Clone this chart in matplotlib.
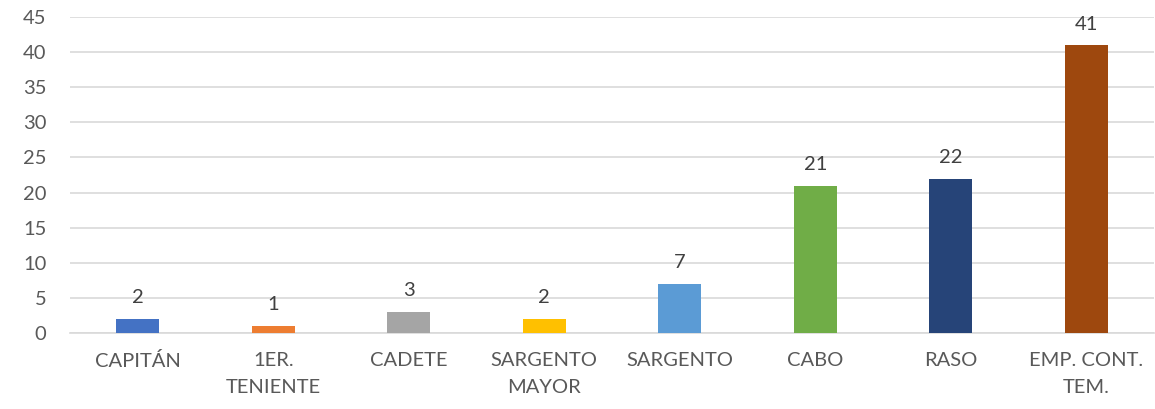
import matplotlib
matplotlib.use("Agg")
import matplotlib.pyplot as plt

categories = ["CAPITÁN", "1ER.\nTENIENTE", "CADETE", "SARGENTO\nMAYOR", "SARGENTO", "CABO", "RASO", "EMP. CONT.\nTEM."]
values = [2, 1, 3, 2, 7, 21, 22, 41]
colors = ["#4472C4", "#ED7D31", "#A5A5A5", "#FFC000", "#5B9BD5", "#70AD47", "#264478", "#9E480E"]
yticks = [0, 5, 10, 15, 20, 25, 30, 35, 40, 45]

plt.rcParams['font.family'] = ['Lato', 'DejaVu Sans']
fig = plt.figure(figsize=(11.55, 4.09), dpi=100)
ax = fig.add_axes([70/1155, 1 - 333/409, (1154-70)/1155, (333-17)/409])
x = list(range(len(categories)))
bars = ax.bar(x, values, width=0.32, color=colors, zorder=3)
for xi, v in zip(x, values):
    ax.annotate(str(v), (xi, v), xytext=(0, 9), textcoords="offset points",
                ha="center", va="bottom", fontsize=14.5, color="#404040")
ax.set_xlim(-0.5, len(categories) - 0.5)
ax.set_ylim(0, 45)
ax.set_yticks(yticks)
ax.set_xticks(x)
ax.set_xticklabels(categories, fontsize=14.5, color="#595959", linespacing=1.7)
ax.tick_params(axis="y", labelsize=14.5, colors="#595959", length=0, pad=17)
ax.tick_params(axis="x", length=0, pad=14)
ax.grid(axis="y", color="#D9D9D9", linewidth=1.2, zorder=0)
for s in ["top", "right", "left"]:
    ax.spines[s].set_visible(False)
ax.spines["bottom"].set_color("#D9D9D9")
ax.spines["bottom"].set_linewidth(1.2)
fig.savefig("out.png", dpi=100)
